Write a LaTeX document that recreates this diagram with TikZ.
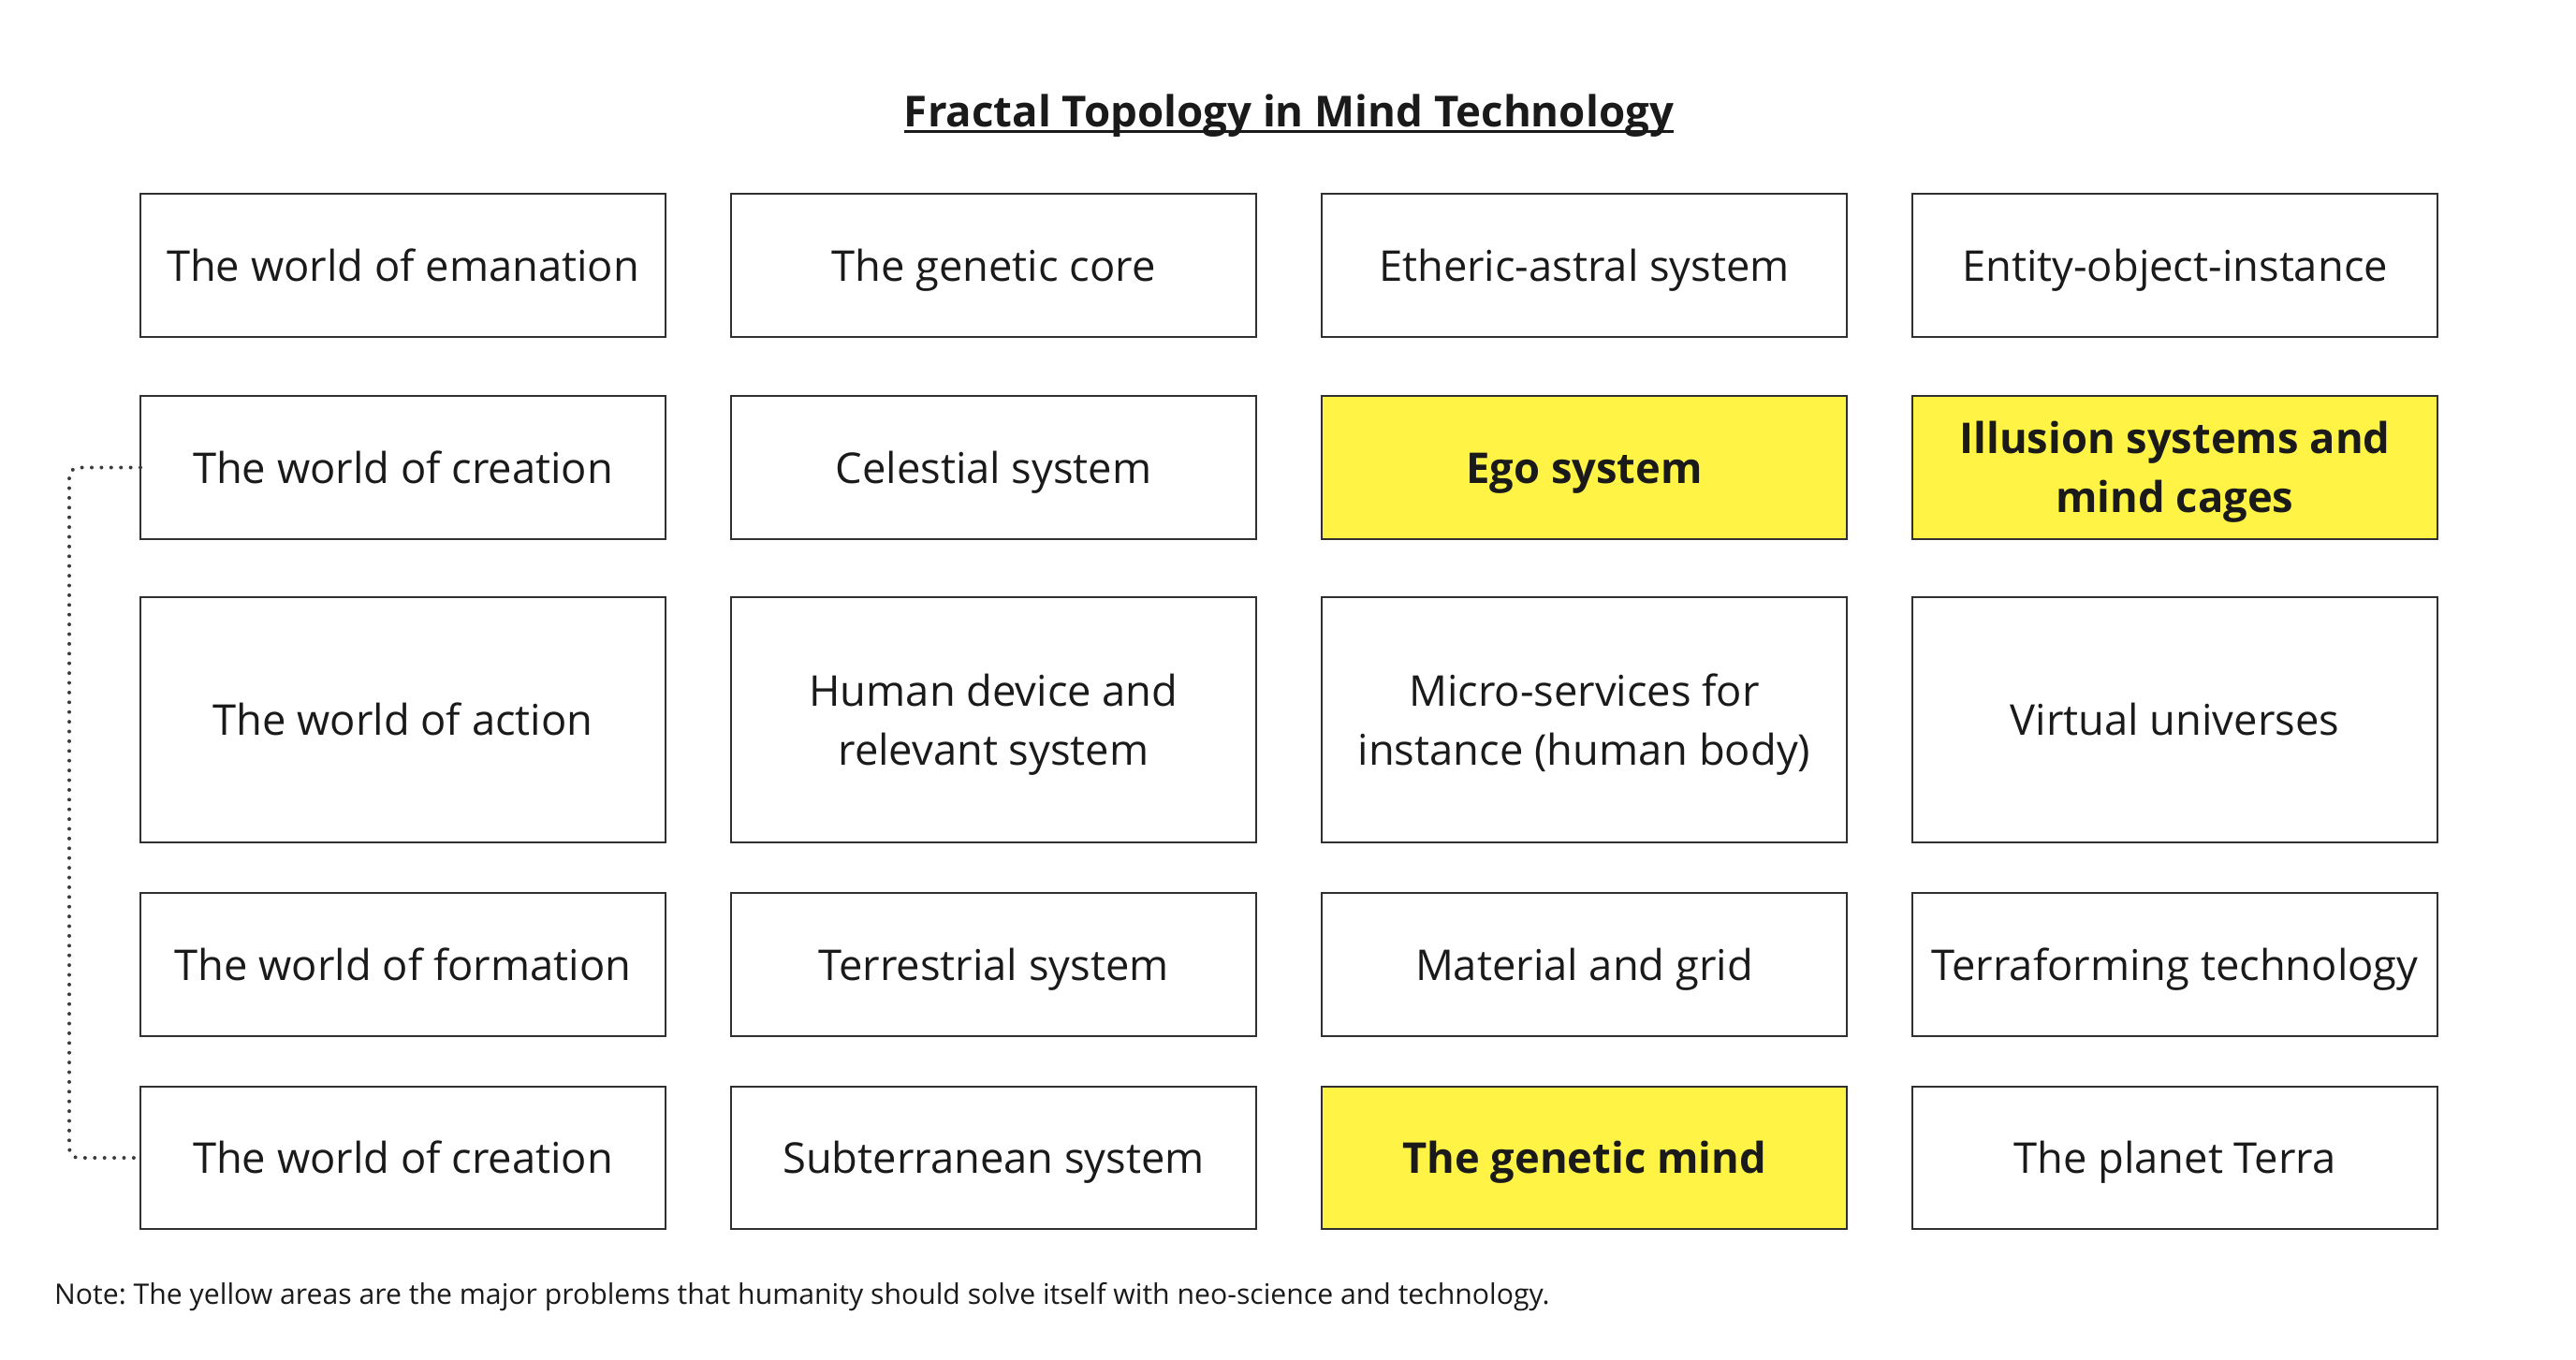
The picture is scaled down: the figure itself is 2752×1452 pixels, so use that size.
\documentclass[tikz,border=0pt]{standalone}
\usepackage{fontspec}
\setmainfont{Open Sans}
\frenchspacing
\definecolor{bordercol}{RGB}{48,48,48}
\definecolor{textcol}{RGB}{26,26,26}
\definecolor{hiyellow}{RGB}{255,244,70}
\definecolor{dotcol}{RGB}{60,60,60}
\tikzset{
  cellbox/.style={draw=bordercol, line width=2.8pt, minimum width=561pt, minimum height=#1,
    anchor=north west, inner sep=0pt, outer sep=0pt, rectangle},
  hl/.style={fill=hiyellow},
  celltext/.style={font=\fontsize{45.3}{63}\selectfont, text=textcol, anchor=base, inner sep=0pt},
  celltextb/.style={font=\fontsize{45.3}{63}\selectfont\bfseries, text=textcol, anchor=base, inner sep=0pt},
  dotline/.style={draw=dotcol, line width=4pt, line cap=round, dash pattern=on 0pt off 10.4pt, rounded corners=10pt},
}
\begin{document}
\begin{tikzpicture}[x=1pt,y=-1pt]
\useasboundingbox[fill=white] (0,0) rectangle (2752,1452);
% title
\node[font=\fontsize{45.6}{60}\selectfont\bfseries, text=textcol, anchor=base, inner sep=0pt] (title) at (1377,135) {Fractal Topology in Mind Technology};
\draw[textcol, line width=3pt] ([yshift=-5pt]title.base west) -- ([yshift=-5pt]title.base east);
% row 1
\node[cellbox=153pt] (b11) at (150,207) {};
\node[cellbox=153pt] (b12) at (781,207) {};
\node[cellbox=153pt] (b13) at (1412,207) {};
\node[cellbox=153pt] (b14) at (2043,207) {};
% row 2
\node[cellbox=153pt] (b21) at (150,423) {};
\node[cellbox=153pt] (b22) at (781,423) {};
\node[cellbox=153pt, hl] (b23) at (1412,423) {};
\node[cellbox=153pt, hl] (b24) at (2043,423) {};
% row 3
\node[cellbox=262pt] (b31) at (150,638) {};
\node[cellbox=262pt] (b32) at (781,638) {};
\node[cellbox=262pt] (b33) at (1412,638) {};
\node[cellbox=262pt] (b34) at (2043,638) {};
% row 4
\node[cellbox=153pt] (b41) at (150,954) {};
\node[cellbox=153pt] (b42) at (781,954) {};
\node[cellbox=153pt] (b43) at (1412,954) {};
\node[cellbox=153pt] (b44) at (2043,954) {};
% row 5
\node[cellbox=152pt] (b51) at (150,1161) {};
\node[cellbox=152pt] (b52) at (781,1161) {};
\node[cellbox=152pt, hl] (b53) at (1412,1161) {};
\node[cellbox=152pt] (b54) at (2043,1161) {};
% texts
\node[celltext] (t11) at ([yshift=-16.5pt]b11.center) {The world of emanation};
\node[celltext] (t12) at ([yshift=-16.5pt]b12.center) {The genetic core};
\node[celltext] (t13) at ([yshift=-16.5pt]b13.center) {Etheric-astral system};
\node[celltext] (t14) at ([yshift=-16.5pt]b14.center) {Entity-object-instance};
\node[celltext] (t21) at ([yshift=-16.5pt]b21.center) {The world of creation};
\node[celltext] (t22) at ([yshift=-16.5pt]b22.center) {Celestial system};
\node[celltextb] (t23) at ([yshift=-16.5pt]b23.center) {Ego system};
\node[celltextb] (t24a) at ([yshift=15pt]b24.center) {Illusion systems and};
\node[celltextb] (t24b) at ([yshift=-48pt]b24.center) {mind cages};
\node[celltext] (t31) at ([yshift=-16.5pt]b31.center) {The world of action};
\node[celltext] (t32a) at ([yshift=15pt]b32.center) {Human device and};
\node[celltext] (t32b) at ([yshift=-48pt]b32.center) {relevant system};
\node[celltext] (t33a) at ([yshift=15pt]b33.center) {Micro-services for};
\node[celltext] (t33b) at ([yshift=-48pt]b33.center) {instance (human body)};
\node[celltext] (t34) at ([yshift=-16.5pt]b34.center) {Virtual universes};
\node[celltext] (t41) at ([yshift=-16.5pt]b41.center) {The world of formation};
\node[celltext] (t42) at ([yshift=-16.5pt]b42.center) {Terrestrial system};
\node[celltext] (t43) at ([yshift=-16.5pt]b43.center) {Material and grid};
\node[celltext] (t44) at ([yshift=-16.5pt]b44.center) {Terraforming technology};
\node[celltext] (t51) at ([yshift=-16.5pt]b51.center) {The world of creation};
\node[celltext] (t52) at ([yshift=-16.5pt]b52.center) {Subterranean system};
\node[celltextb] (t53) at ([yshift=-16.5pt]b53.center) {The genetic mind};
\node[celltext] (t54) at ([yshift=-16.5pt]b54.center) {The planet Terra};
% dotted connector
\draw[dotline] (b21.west) -- ++(-76,0) |- (b51.west);
% note
\node[font=\fontsize{30.2}{40}\selectfont, text=textcol, anchor=base west, inner sep=0pt] (note) at (58,1393) {Note: The yellow areas are the major problems that humanity should solve itself with neo-science and technology.};
\end{tikzpicture}
\end{document}
